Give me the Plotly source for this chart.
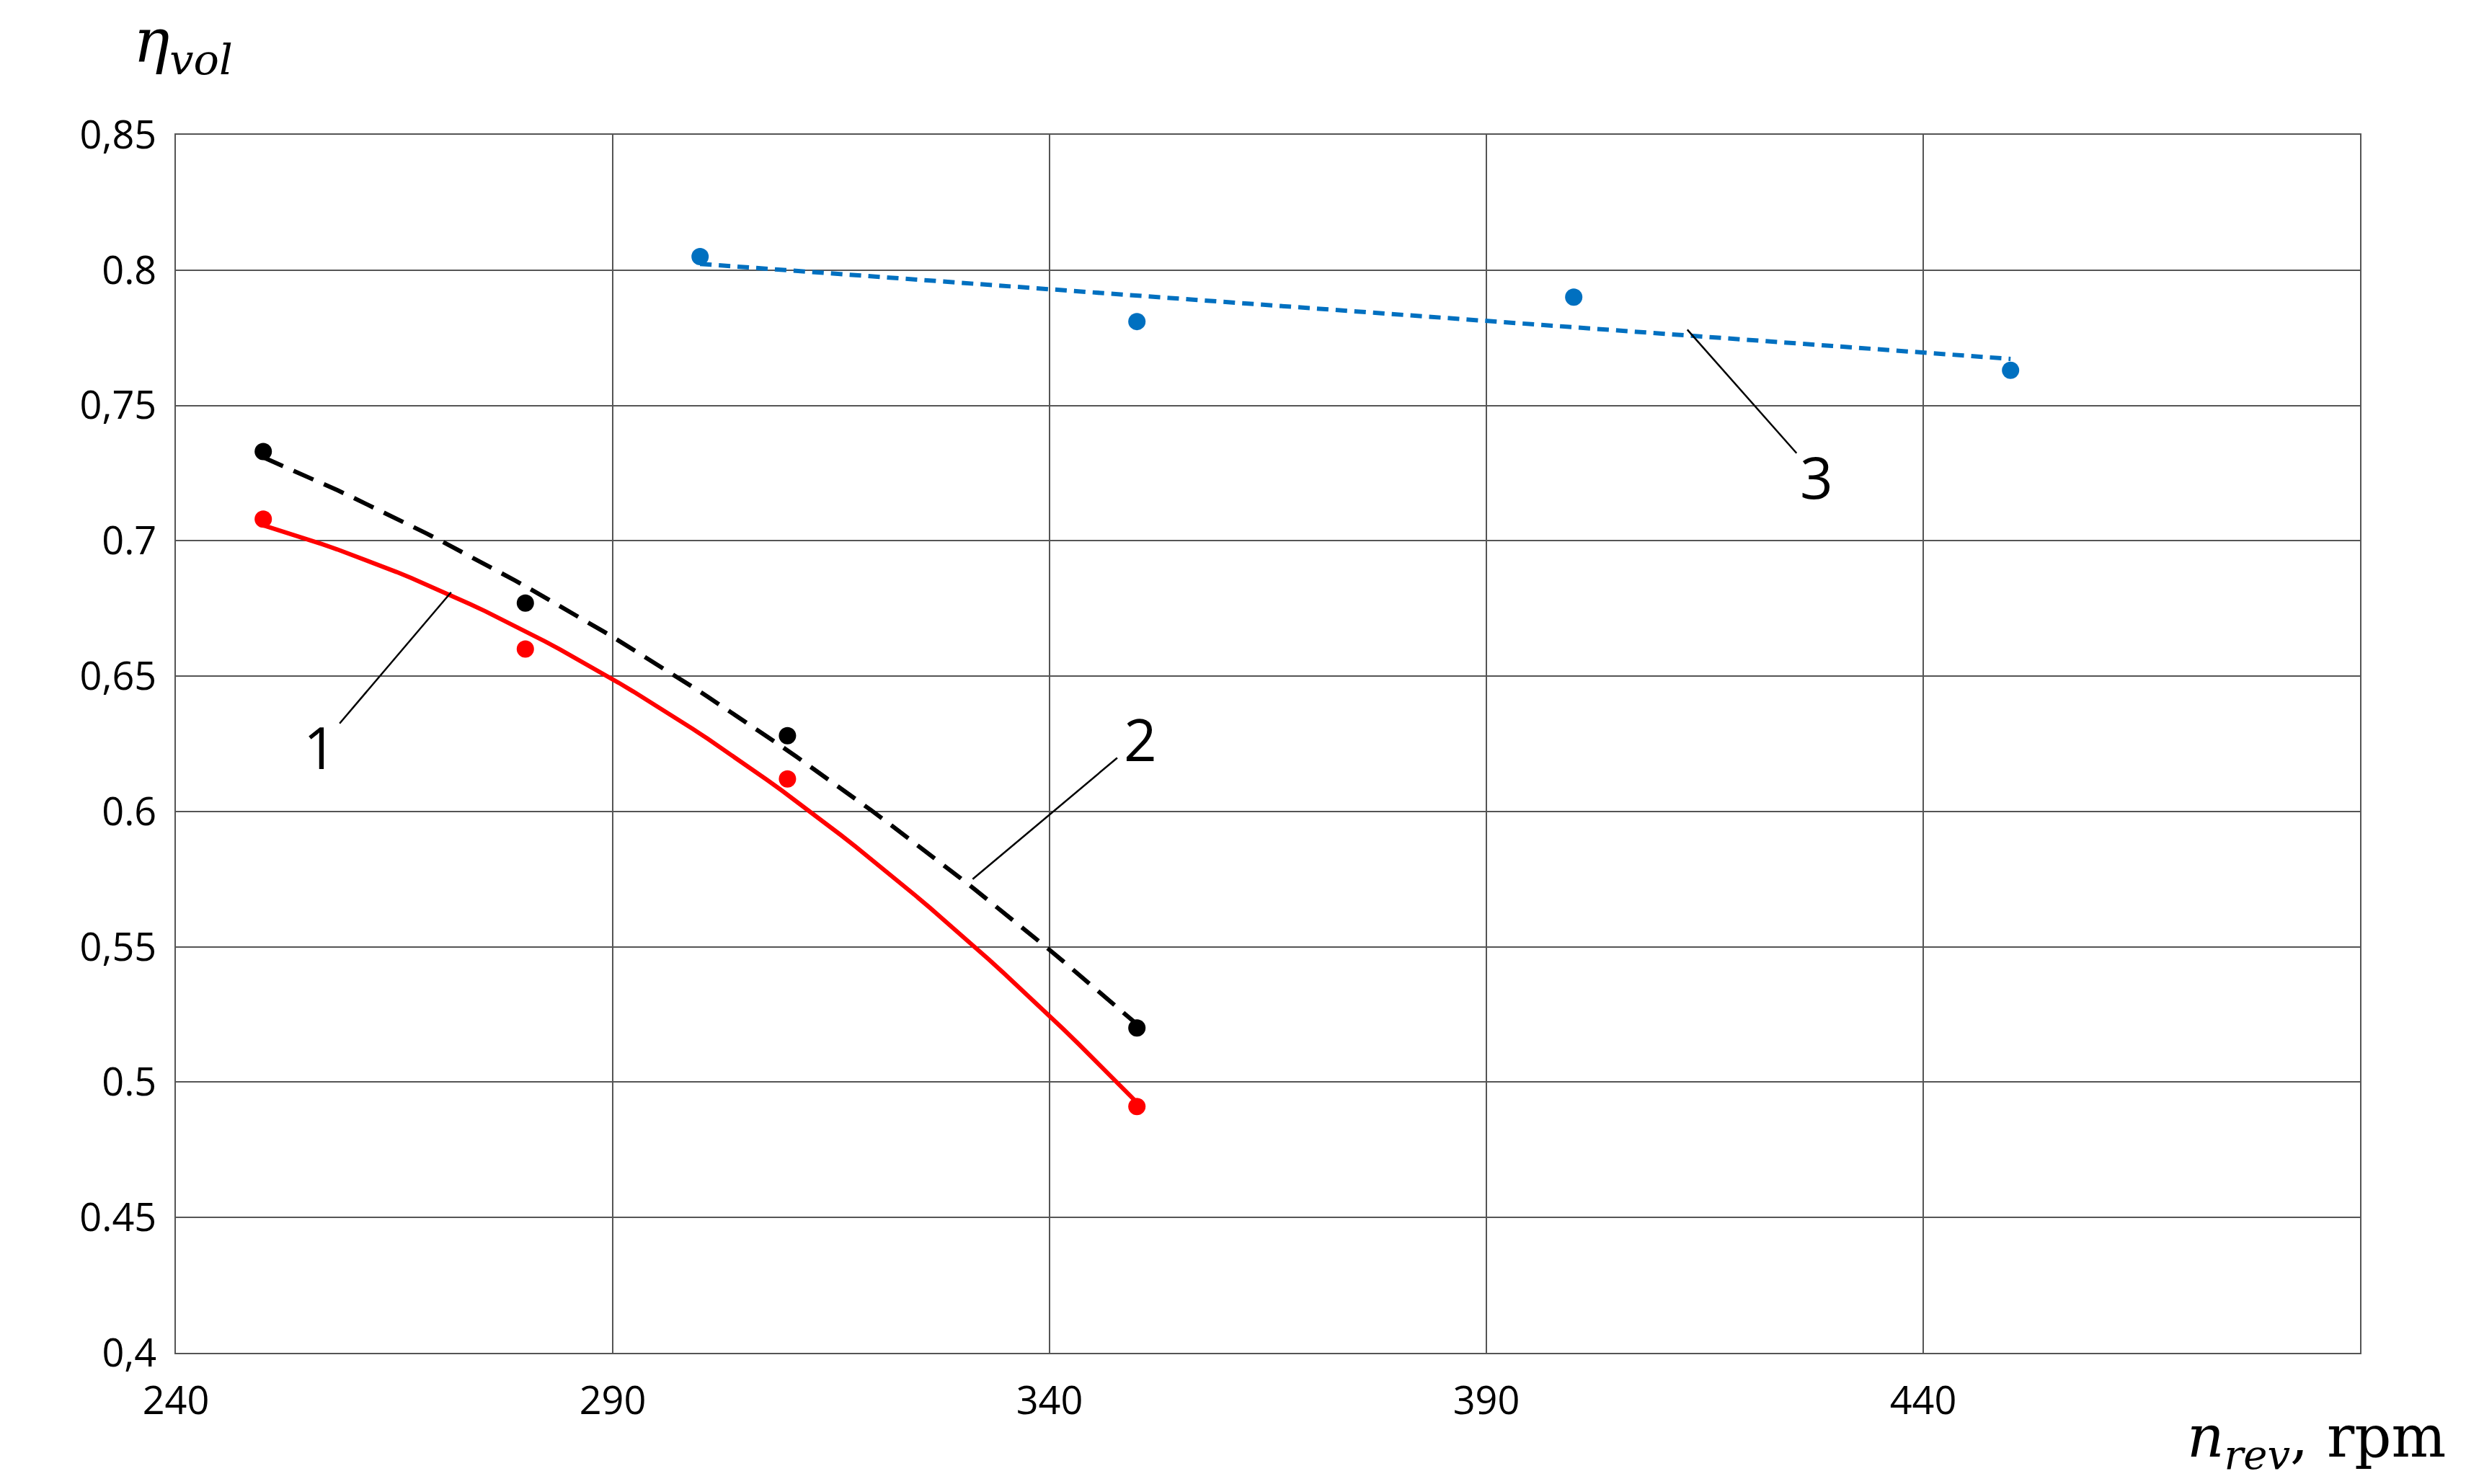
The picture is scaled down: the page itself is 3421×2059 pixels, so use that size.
import numpy as np
import plotly.graph_objects as go

x_red = [250, 280, 310, 350]
y_red = [0.708, 0.660, 0.612, 0.491]
x_blk = [250, 280, 310, 350]
y_blk = [0.733, 0.677, 0.628, 0.520]
x_blu = [300, 350, 400, 450]
y_blu = [0.805, 0.781, 0.790, 0.763]
yticks = [0.4, 0.45, 0.5, 0.55, 0.6, 0.65, 0.7, 0.75, 0.8, 0.85]
ytext = ["0,4", "0.45", "0.5", "0,55", "0.6", "0,65", "0.7", "0,75", "0.8", "0,85"]
xticks = [240, 290, 340, 390, 440]

def fit(x, y, deg):
    c = np.polyfit(x, y, deg)
    xs = np.linspace(min(x), max(x), 60)
    return xs, np.polyval(c, xs)

fig = go.Figure()
xs, ys = fit(x_red, y_red, 2)
fig.add_trace(go.Scatter(x=xs, y=ys, mode="lines", line=dict(color="#ff0000", width=6)))
xs, ys = fit(x_blk, y_blk, 2)
fig.add_trace(go.Scatter(x=xs, y=ys, mode="lines", line=dict(color="black", width=6, dash="30px,16px")))
xs, ys = fit(x_blu, y_blu, 1)
fig.add_trace(go.Scatter(x=xs, y=ys, mode="lines", line=dict(color="#0070c0", width=6, dash="16px,10px")))
fig.add_trace(go.Scatter(x=x_red, y=y_red, mode="markers", marker=dict(color="#ff0000", size=24)))
fig.add_trace(go.Scatter(x=x_blk, y=y_blk, mode="markers", marker=dict(color="black", size=24)))
fig.add_trace(go.Scatter(x=x_blu, y=y_blu, mode="markers", marker=dict(color="#0070c0", size=24)))

for lx, ly, tx, ty, t in [(256.5, 0.624, 271.5, 0.681, "1"), (350.4, 0.627, 331.2, 0.575, "2"), (427.8, 0.724, 413, 0.778, "3")]:
    fig.add_annotation(x=tx, y=ty, ax=lx, ay=ly, axref="x", ayref="y", text="", showarrow=True,
                       arrowhead=0, arrowwidth=2.5, arrowcolor="black", standoff=0, startstandoff=40)
    fig.add_annotation(x=lx, y=ly, text=t, showarrow=False, font=dict(size=80, color="black"))

fig.add_annotation(xref="paper", yref="paper", x=-0.02, y=1.04, xanchor="left", yanchor="bottom",
                   text="<i>η</i><sub><i>vol</i></sub>", showarrow=False,
                   font=dict(size=84, family="DejaVu Serif", color="black"))
fig.add_annotation(xref="paper", yref="paper", x=1.04, y=-0.04, xanchor="right", yanchor="top",
                   text="<i>n</i><sub><i>rev</i></sub>, rpm", showarrow=False,
                   font=dict(size=80, family="DejaVu Serif", color="black"))

fig.update_layout(width=3421, height=2059, showlegend=False, plot_bgcolor="white", paper_bgcolor="white",
                  margin=dict(l=236, r=155, t=179, b=190),
                  font=dict(family="Open Sans", size=54, color="black"))
fig.update_xaxes(range=[240, 490], tickvals=xticks, showgrid=True, gridcolor="#555", gridwidth=2,
                 showline=True, linecolor="#555", linewidth=2, mirror=True, zeroline=False, ticks="",
                 ticklabelstandoff=18)
fig.update_yaxes(range=[0.4, 0.85], tickvals=yticks, ticktext=ytext, showgrid=True, gridcolor="#555", gridwidth=2,
                 showline=True, linecolor="#555", linewidth=2, mirror=True, zeroline=False, ticks="",
                 ticklabelstandoff=14)
fig.write_html("out.html")
